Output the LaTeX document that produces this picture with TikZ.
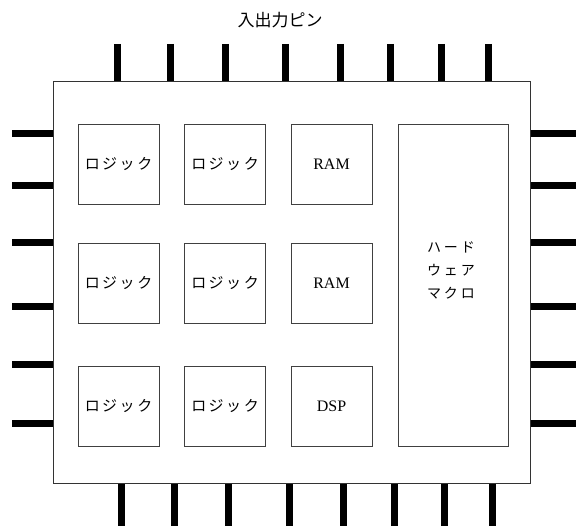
\documentclass[tikz,border=0pt]{standalone}
\usepackage{fontspec}
\setmainfont{Liberation Serif}
\newfontfamily\jp{Noto Sans CJK JP}
\newcommand\sk{\kern2.5pt}
\begin{document}
\begin{tikzpicture}[x=1pt,y=-1pt,
  chipbox/.style={draw=black!80,line width=1pt,fill=white,rectangle,minimum width=477pt,minimum height=402pt,inner sep=0pt},
  blk/.style={draw=black!75,line width=0.8pt,rectangle,minimum width=81pt,minimum height=80pt,inner sep=0pt},
  jptext/.style={font=\jp\fontsize{15}{18}\selectfont},
  entext/.style={font=\fontsize{16}{18}\selectfont},
  pin/.style={line width=7pt,black}]
\useasboundingbox (0,0) rectangle (576,526);
\fill[white] (0,0) rectangle (576,526);
% pins
\foreach \x [count=\i] in {117,170,225,285,340,390,441,488}{
  \coordinate (t\i a) at (\x,44); \coordinate (t\i b) at (\x,82);
  \draw[pin] (t\i a) -- (t\i b);}
\foreach \x [count=\i] in {121,174.5,228.5,289,343.5,394,444,492}{
  \coordinate (b\i a) at (\x,484); \coordinate (b\i b) at (\x,526);
  \draw[pin] (b\i a) -- (b\i b);}
\foreach \y [count=\i] in {134,186,243,307,365,424}{
  \coordinate (l\i a) at (12,\y); \coordinate (l\i b) at (53,\y);
  \draw[pin] (l\i a) -- (l\i b);
  \coordinate (r\i a) at (530,\y); \coordinate (r\i b) at (576,\y);
  \draw[pin] (r\i a) -- (r\i b);}
% chip
\node[chipbox] (chip) at (291.5,283) {};
\node[font=\jp\fontsize{17}{20}\selectfont] (title) at (280,20) {入出力ピン};
% blocks
\node[blk,jptext] (a1) at (118.5,164) {ロ\sk ジ\sk ッ\sk ク};
\node[blk,jptext] (a2) at (225,164) {ロ\sk ジ\sk ッ\sk ク};
\node[blk,entext] (a3) at (331.5,164) {RAM};
\node[blk,jptext] (b1) at (118.5,283) {ロ\sk ジ\sk ッ\sk ク};
\node[blk,jptext] (b2) at (225,283) {ロ\sk ジ\sk ッ\sk ク};
\node[blk,entext] (b3) at (331.5,283) {RAM};
\node[blk,jptext] (c1) at (118.5,406) {ロ\sk ジ\sk ッ\sk ク};
\node[blk,jptext] (c2) at (225,406) {ロ\sk ジ\sk ッ\sk ク};
\node[blk,entext] (c3) at (331.5,406) {DSP};
\node[draw=black!75,line width=0.8pt,rectangle,minimum width=110pt,minimum height=322pt,inner sep=0pt] (hw) at (453,285) {};
\node[font=\jp\fontsize{14}{23}\selectfont,align=center] (hwt) at (451,270) {ハ\kern3ptー\kern3ptド\\ウ\kern3ptェ\kern3ptア\\マ\kern3ptク\kern3ptロ};
\end{tikzpicture}
\end{document}
